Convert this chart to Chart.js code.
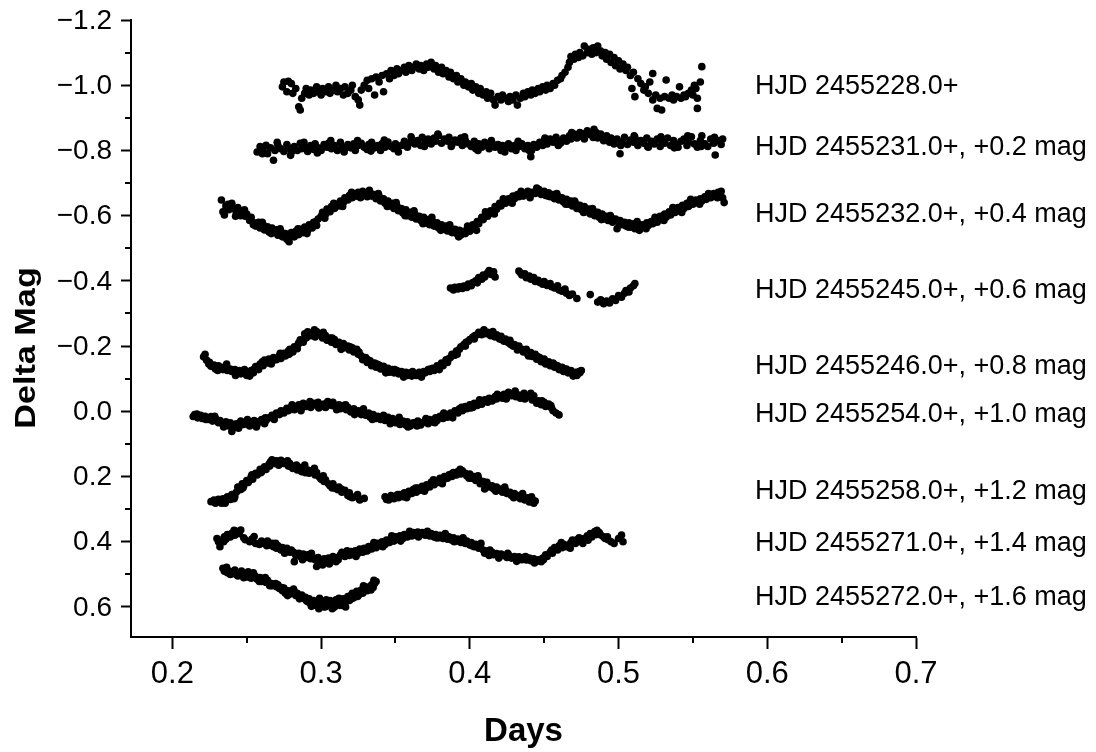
<!DOCTYPE html>
<html>
<head>
<meta charset="utf-8">
<script src="https://cdn.jsdelivr.net/npm/chart.js@4.4.1/dist/chart.umd.min.js"></script>
<style>
  html, body { margin: 0; padding: 0; background: #fff; }
  canvas { display: block; }
</style>
</head>
<body>
<canvas id="lightCurves" width="1096" height="752"></canvas>
<script>
// axis ticks
const dayTicks = [0.2, 0.3, 0.4, 0.5, 0.6, 0.7];
const dayMinor = [0.25, 0.35, 0.45, 0.55, 0.65];
const magTicks = [-1.2, -1.0, -0.8, -0.6, -0.4, -0.2, 0.0, 0.2, 0.4, 0.6];
const magMinor = [-1.1, -0.9, -0.7, -0.5, -0.3, -0.1, 0.1, 0.3, 0.5];

// night labels and where they sit (Delta Mag)
const nightLabels = [
  "HJD 2455228.0+",
  "HJD 2455231.0+, +0.2 mag",
  "HJD 2455232.0+, +0.4 mag",
  "HJD 2455245.0+, +0.6 mag",
  "HJD 2455246.0+, +0.8 mag",
  "HJD 2455254.0+, +1.0 mag",
  "HJD 2455258.0+, +1.2 mag",
  "HJD 2455271.0+, +1.4 mag",
  "HJD 2455272.0+, +1.6 mag"
];
const nightLabelMag = [-0.995, -0.81, -0.604, -0.371, -0.137, 0.010, 0.247, 0.406, 0.572];
const nightLabelDay = 0.5918;

// [days, delta mag]
const n228 = [[0.274,-0.995],[0.275,-1.01],[0.277,-0.98],[0.278,-1.012],[0.280,-1.005],[0.281,-0.975],[0.283,-0.99],[0.285,-0.934],[0.286,-0.924],[0.287,-0.96],[0.289,-0.975],[0.290,-0.99],[0.292,-0.97],[0.293,-0.985],[0.295,-0.975],[0.297,-0.995],[0.298,-0.98],[0.300,-0.97],[0.301,-0.99],[0.303,-0.98],[0.305,-0.995],[0.306,-0.975],[0.308,-0.985],[0.310,-1.0],[0.311,-0.98],[0.313,-0.99],[0.315,-0.97],[0.316,-0.995],[0.318,-0.975],[0.320,-0.985],[0.321,-1.0],[0.323,-0.965],[0.325,-0.955],[0.326,-0.939],[0.327,-0.985],[0.329,-1.0],[0.331,-1.015],[0.332,-0.99],[0.334,-1.02],[0.336,-0.97],[0.337,-1.025],[0.339,-1.01],[0.341,-1.03],[0.342,-0.98],[0.344,-1.035],[0.346,-1.02],[0.347,-1.045],[0.349,-1.03],[0.351,-1.05],[0.352,-1.035],[0.354,-1.045],[0.356,-1.055],[0.357,-1.04],[0.359,-1.06],[0.361,-1.045],[0.362,-1.055],[0.364,-1.065],[0.366,-1.05],[0.367,-1.06],[0.369,-1.045],[0.371,-1.065],[0.372,-1.055],[0.374,-1.07],[0.376,-1.05],[0.377,-1.06],[0.379,-1.04],[0.381,-1.055],[0.382,-1.035],[0.384,-1.045],[0.386,-1.025],[0.387,-1.04],[0.389,-1.02],[0.391,-1.03],[0.392,-1.01],[0.394,-1.02],[0.396,-1.0],[0.397,-1.01],[0.399,-0.995],[0.401,-1.005],[0.402,-0.985],[0.404,-0.995],[0.406,-0.975],[0.407,-0.99],[0.409,-0.97],[0.411,-0.98],[0.412,-0.96],[0.414,-0.975],[0.416,-0.955],[0.417,-0.939],[0.419,-0.965],[0.421,-0.955],[0.422,-0.97],[0.424,-0.96],[0.426,-0.95],[0.427,-0.965],[0.429,-0.955],[0.431,-0.97],[0.432,-0.939],[0.434,-0.96],[0.436,-0.975],[0.437,-0.965],[0.439,-0.98],[0.441,-0.97],[0.442,-0.985],[0.444,-0.975],[0.446,-0.99],[0.447,-0.98],[0.449,-0.995],[0.451,-0.985],[0.452,-1.0],[0.454,-0.99],[0.456,-1.005],[0.457,-1.0],[0.459,-1.015],[0.461,-1.02],[0.462,-1.03],[0.464,-1.04],[0.466,-1.055],[0.467,-1.07],[0.468,-1.088],[0.470,-1.08],[0.471,-1.095],[0.473,-1.085],[0.474,-1.1],[0.476,-1.09],[0.477,-1.12],[0.479,-1.1],[0.480,-1.11],[0.482,-1.095],[0.483,-1.115],[0.485,-1.1],[0.486,-1.12],[0.488,-1.105],[0.489,-1.09],[0.491,-1.1],[0.492,-1.08],[0.494,-1.095],[0.495,-1.07],[0.497,-1.085],[0.498,-1.06],[0.500,-1.075],[0.501,-1.05],[0.503,-1.065],[0.505,-1.045],[0.506,-1.055],[0.508,-1.03],[0.509,-0.99],[0.510,-1.04],[0.511,-0.965],[0.513,-1.02],[0.515,-1.005],[0.517,-0.985],[0.518,-0.995],[0.520,-0.975],[0.521,-1.01],[0.523,-1.036],[0.523,-0.955],[0.525,-0.97],[0.526,-0.929],[0.528,-0.96],[0.529,-0.924],[0.531,-0.965],[0.532,-1.016],[0.534,-0.96],[0.536,-0.97],[0.537,-0.955],[0.539,-0.965],[0.541,-0.995],[0.542,-0.96],[0.544,-0.97],[0.545,-0.965],[0.547,-0.975],[0.549,-0.985],[0.550,-0.97],[0.551,-1.0],[0.552,-0.99],[0.553,-0.96],[0.553,-0.929],[0.555,-1.01],[0.556,-1.057]];

const n231 = [[0.257,-0.795],[0.259,-0.812],[0.261,-0.802],[0.263,-0.816],[0.264,-0.79],[0.266,-0.808],[0.268,-0.77],[0.269,-0.8],[0.271,-0.815],[0.273,-0.805],[0.275,-0.797],[0.277,-0.818],[0.278,-0.808],[0.280,-0.795],[0.282,-0.812],[0.284,-0.8],[0.286,-0.822],[0.287,-0.805],[0.289,-0.81],[0.291,-0.797],[0.293,-0.815],[0.295,-0.803],[0.296,-0.82],[0.298,-0.808],[0.300,-0.8],[0.302,-0.818],[0.304,-0.81],[0.305,-0.822],[0.307,-0.805],[0.309,-0.815],[0.311,-0.8],[0.313,-0.825],[0.314,-0.812],[0.316,-0.805],[0.318,-0.818],[0.320,-0.808],[0.322,-0.82],[0.323,-0.8],[0.325,-0.815],[0.327,-0.822],[0.329,-0.81],[0.331,-0.803],[0.332,-0.818],[0.334,-0.825],[0.336,-0.808],[0.338,-0.815],[0.340,-0.8],[0.341,-0.82],[0.343,-0.81],[0.345,-0.826],[0.347,-0.812],[0.349,-0.805],[0.350,-0.82],[0.352,-0.795],[0.354,-0.815],[0.356,-0.828],[0.358,-0.81],[0.359,-0.822],[0.361,-0.835],[0.363,-0.82],[0.365,-0.83],[0.367,-0.815],[0.368,-0.84],[0.370,-0.825],[0.372,-0.835],[0.374,-0.82],[0.376,-0.838],[0.377,-0.828],[0.379,-0.845],[0.381,-0.822],[0.383,-0.835],[0.385,-0.828],[0.386,-0.84],[0.388,-0.818],[0.390,-0.832],[0.392,-0.825],[0.394,-0.838],[0.395,-0.815],[0.397,-0.83],[0.399,-0.82],[0.401,-0.812],[0.403,-0.828],[0.404,-0.805],[0.406,-0.82],[0.408,-0.81],[0.410,-0.825],[0.412,-0.815],[0.413,-0.805],[0.415,-0.822],[0.417,-0.81],[0.419,-0.818],[0.421,-0.8],[0.422,-0.815],[0.424,-0.808],[0.426,-0.82],[0.428,-0.805],[0.430,-0.815],[0.431,-0.8],[0.433,-0.812],[0.435,-0.82],[0.437,-0.805],[0.439,-0.815],[0.440,-0.8],[0.441,-0.781],[0.443,-0.818],[0.445,-0.81],[0.447,-0.825],[0.449,-0.815],[0.450,-0.83],[0.452,-0.82],[0.454,-0.835],[0.456,-0.825],[0.458,-0.84],[0.459,-0.83],[0.461,-0.822],[0.463,-0.838],[0.465,-0.828],[0.467,-0.845],[0.468,-0.835],[0.470,-0.85],[0.472,-0.838],[0.474,-0.855],[0.476,-0.842],[0.477,-0.835],[0.479,-0.86],[0.481,-0.848],[0.483,-0.84],[0.485,-0.855],[0.486,-0.838],[0.488,-0.85],[0.490,-0.83],[0.492,-0.845],[0.494,-0.825],[0.495,-0.838],[0.497,-0.82],[0.499,-0.835],[0.501,-0.79],[0.502,-0.825],[0.504,-0.84],[0.506,-0.818],[0.508,-0.832],[0.510,-0.825],[0.511,-0.84],[0.513,-0.815],[0.515,-0.83],[0.517,-0.822],[0.519,-0.838],[0.520,-0.81],[0.522,-0.828],[0.524,-0.82],[0.526,-0.835],[0.528,-0.812],[0.529,-0.83],[0.531,-0.822],[0.533,-0.838],[0.535,-0.815],[0.537,-0.83],[0.538,-0.82],[0.540,-0.81],[0.542,-0.828],[0.544,-0.835],[0.546,-0.815],[0.547,-0.825],[0.549,-0.842],[0.551,-0.82],[0.553,-0.81],[0.555,-0.83],[0.556,-0.845],[0.558,-0.82],[0.560,-0.812],[0.562,-0.835],[0.564,-0.822],[0.565,-0.786],[0.567,-0.83],[0.569,-0.818],[0.570,-0.835],
  [0.2605,-0.79],[0.2705,-0.825],[0.2795,-0.785],[0.2885,-0.825],[0.2975,-0.792],[0.3065,-0.83],[0.3155,-0.795],[0.3245,-0.83],[0.3335,-0.798],[0.3425,-0.832],[0.3515,-0.81],[0.3605,-0.842],[0.3695,-0.812],[0.3785,-0.85],[0.3875,-0.812],[0.3965,-0.842],[0.4055,-0.8],[0.4145,-0.83],[0.4235,-0.795],[0.4325,-0.828],[0.4415,-0.8],[0.4505,-0.838],[0.4595,-0.815],[0.4685,-0.855],[0.4775,-0.852],[0.4835,-0.865],[0.4925,-0.835],[0.5015,-0.815],[0.5105,-0.845],[0.5195,-0.812],[0.5285,-0.842],[0.5375,-0.808],[0.5465,-0.845],[0.5555,-0.812],[0.5645,-0.84]];

const n232 = [[0.233,-0.648],[0.234,-0.612],[0.235,-0.602],[0.236,-0.63],[0.238,-0.618],[0.240,-0.638],[0.241,-0.622],[0.243,-0.61],[0.244,-0.625],[0.246,-0.6],[0.247,-0.614],[0.249,-0.598],[0.250,-0.605],[0.252,-0.585],[0.253,-0.595],[0.255,-0.578],[0.256,-0.568],[0.258,-0.58],[0.259,-0.562],[0.261,-0.572],[0.262,-0.556],[0.264,-0.566],[0.265,-0.55],[0.267,-0.562],[0.268,-0.548],[0.270,-0.557],[0.271,-0.54],[0.273,-0.552],[0.274,-0.535],[0.276,-0.545],[0.277,-0.528],[0.279,-0.54],[0.280,-0.548],[0.282,-0.535],[0.283,-0.552],[0.285,-0.542],[0.286,-0.558],[0.288,-0.548],[0.289,-0.565],[0.291,-0.555],[0.292,-0.572],[0.294,-0.562],[0.295,-0.58],[0.297,-0.57],[0.298,-0.59],[0.300,-0.598],[0.301,-0.61],[0.303,-0.604],[0.304,-0.62],[0.306,-0.612],[0.307,-0.628],[0.309,-0.622],[0.310,-0.635],[0.312,-0.63],[0.313,-0.645],[0.315,-0.64],[0.316,-0.655],[0.318,-0.648],[0.319,-0.662],[0.321,-0.655],[0.322,-0.668],[0.324,-0.66],[0.325,-0.672],[0.327,-0.662],[0.328,-0.675],[0.330,-0.665],[0.331,-0.658],[0.333,-0.67],[0.334,-0.66],[0.336,-0.665],[0.337,-0.652],[0.339,-0.66],[0.340,-0.645],[0.342,-0.652],[0.343,-0.638],[0.345,-0.645],[0.346,-0.63],[0.348,-0.638],[0.349,-0.622],[0.351,-0.63],[0.352,-0.615],[0.354,-0.622],[0.355,-0.608],[0.357,-0.618],[0.358,-0.6],[0.360,-0.61],[0.361,-0.595],[0.363,-0.605],[0.364,-0.59],[0.366,-0.598],[0.367,-0.585],[0.369,-0.595],[0.370,-0.578],[0.372,-0.588],[0.373,-0.572],[0.375,-0.582],[0.376,-0.568],[0.378,-0.578],[0.379,-0.562],[0.381,-0.572],[0.382,-0.558],[0.384,-0.568],[0.385,-0.553],[0.387,-0.562],[0.388,-0.548],[0.390,-0.558],[0.391,-0.545],[0.393,-0.555],[0.394,-0.541],[0.396,-0.552],[0.397,-0.545],[0.399,-0.56],[0.400,-0.552],[0.402,-0.572],[0.403,-0.565],[0.405,-0.582],[0.406,-0.575],[0.408,-0.595],[0.409,-0.588],[0.411,-0.605],[0.412,-0.598],[0.414,-0.615],[0.415,-0.608],[0.417,-0.628],[0.418,-0.62],[0.420,-0.638],[0.421,-0.63],[0.423,-0.645],[0.424,-0.638],[0.426,-0.652],[0.427,-0.645],[0.429,-0.66],[0.430,-0.652],[0.432,-0.665],[0.433,-0.658],[0.435,-0.67],[0.436,-0.66],[0.438,-0.668],[0.439,-0.675],[0.441,-0.665],[0.442,-0.672],[0.444,-0.668],[0.445,-0.685],[0.447,-0.672],[0.448,-0.665],[0.450,-0.675],[0.451,-0.662],[0.453,-0.67],[0.454,-0.658],[0.456,-0.665],[0.457,-0.652],[0.459,-0.66],[0.460,-0.648],[0.462,-0.655],[0.463,-0.642],[0.465,-0.65],[0.466,-0.635],[0.468,-0.645],[0.469,-0.63],[0.471,-0.638],[0.472,-0.622],[0.474,-0.632],[0.475,-0.618],[0.477,-0.628],[0.478,-0.612],[0.480,-0.62],[0.481,-0.605],[0.483,-0.615],[0.484,-0.6],[0.486,-0.61],[0.487,-0.595],[0.489,-0.605],[0.490,-0.59],[0.492,-0.598],[0.493,-0.585],[0.495,-0.595],[0.496,-0.58],[0.498,-0.59],[0.499,-0.56],[0.501,-0.585],[0.502,-0.572],[0.504,-0.58],[0.505,-0.568],[0.507,-0.578],[0.508,-0.565],[0.510,-0.575],[0.511,-0.56],[0.513,-0.57],[0.514,-0.555],[0.516,-0.572],[0.517,-0.565],[0.519,-0.578],[0.520,-0.57],[0.522,-0.582],[0.523,-0.575],[0.525,-0.59],[0.526,-0.58],[0.528,-0.598],[0.529,-0.588],[0.531,-0.605],[0.532,-0.595],[0.534,-0.612],[0.535,-0.602],[0.537,-0.618],[0.538,-0.61],[0.540,-0.625],[0.541,-0.615],[0.543,-0.632],[0.544,-0.622],[0.546,-0.638],[0.547,-0.628],[0.549,-0.642],[0.550,-0.635],[0.552,-0.648],[0.553,-0.64],[0.555,-0.652],[0.556,-0.645],[0.558,-0.658],[0.559,-0.65],[0.561,-0.662],[0.562,-0.655],[0.564,-0.668],[0.565,-0.66],[0.567,-0.672],[0.568,-0.662],[0.569,-0.675],[0.570,-0.655],[0.571,-0.64],
  [0.2375,-0.635],[0.2425,-0.598],[0.2485,-0.618],[0.2545,-0.572],[0.2605,-0.58],[0.2665,-0.545],[0.2725,-0.56],[0.2785,-0.52],[0.2845,-0.56],[0.2905,-0.545],[0.2965,-0.582],[0.3025,-0.592],[0.3085,-0.638],[0.3145,-0.628],[0.3205,-0.672],[0.3265,-0.655],[0.3325,-0.678],[0.3385,-0.668],[0.3445,-0.628],[0.3505,-0.64],[0.3565,-0.6],[0.3625,-0.615],[0.3685,-0.575],[0.3745,-0.595],[0.3805,-0.555],[0.3865,-0.572],[0.3925,-0.535],[0.3985,-0.568],[0.4045,-0.555],[0.4105,-0.612],[0.4165,-0.605],[0.4225,-0.652],[0.4285,-0.638],[0.4345,-0.675],[0.4405,-0.655],[0.4465,-0.68],[0.4525,-0.66],[0.4585,-0.668],[0.4645,-0.635],[0.4705,-0.645],[0.4765,-0.61],[0.4825,-0.622],[0.4885,-0.588],[0.4945,-0.6],[0.5005,-0.575],[0.5065,-0.565],[0.5125,-0.582],[0.5185,-0.56],[0.5245,-0.595],[0.5305,-0.585],[0.5365,-0.625],[0.5425,-0.61],[0.5485,-0.65],[0.5545,-0.635],[0.5605,-0.668],[0.5665,-0.655]];

const n245 = [[0.387,-0.378],[0.389,-0.372],[0.390,-0.38],[0.392,-0.375],[0.393,-0.382],[0.395,-0.377],[0.396,-0.384],[0.398,-0.38],[0.399,-0.39],[0.401,-0.385],[0.402,-0.395],[0.404,-0.4],[0.405,-0.394],[0.406,-0.41],[0.408,-0.405],[0.409,-0.418],[0.410,-0.412],[0.412,-0.425],[0.413,-0.432],[0.414,-0.42],[0.416,-0.428],[0.417,-0.412],[0.433,-0.43],[0.434,-0.425],[0.435,-0.418],[0.437,-0.422],[0.438,-0.41],[0.440,-0.415],[0.441,-0.405],[0.443,-0.41],[0.444,-0.398],[0.446,-0.402],[0.447,-0.395],[0.449,-0.39],[0.450,-0.398],[0.452,-0.386],[0.454,-0.392],[0.455,-0.382],[0.457,-0.378],[0.459,-0.385],[0.460,-0.372],[0.462,-0.368],[0.464,-0.375],[0.465,-0.362],[0.467,-0.355],[0.469,-0.36],[0.472,-0.346],[0.481,-0.358],[0.486,-0.335],[0.488,-0.342],[0.490,-0.33],[0.492,-0.338],[0.494,-0.332],[0.496,-0.345],[0.498,-0.34],[0.500,-0.355],[0.502,-0.35],[0.504,-0.362],[0.505,-0.37],[0.507,-0.366],[0.508,-0.378],[0.510,-0.385],[0.511,-0.392]];

const n246 = [[0.221,-0.167],[0.222,-0.175],[0.223,-0.157],[0.225,-0.15],[0.226,-0.138],[0.228,-0.142],[0.229,-0.13],[0.231,-0.14],[0.233,-0.135],[0.234,-0.128],[0.236,-0.137],[0.237,-0.125],[0.239,-0.13],[0.240,-0.122],[0.242,-0.128],[0.243,-0.118],[0.245,-0.125],[0.246,-0.115],[0.248,-0.12],[0.250,-0.11],[0.252,-0.108],[0.253,-0.125],[0.255,-0.13],[0.256,-0.137],[0.258,-0.128],[0.259,-0.145],[0.261,-0.14],[0.262,-0.157],[0.264,-0.148],[0.265,-0.16],[0.267,-0.152],[0.268,-0.165],[0.270,-0.158],[0.272,-0.17],[0.273,-0.162],[0.275,-0.178],[0.276,-0.17],[0.278,-0.185],[0.279,-0.19],[0.281,-0.182],[0.282,-0.198],[0.284,-0.192],[0.285,-0.21],[0.286,-0.219],[0.288,-0.212],[0.289,-0.238],[0.290,-0.225],[0.291,-0.244],[0.293,-0.232],[0.294,-0.24],[0.296,-0.228],[0.297,-0.245],[0.298,-0.235],[0.300,-0.238],[0.301,-0.225],[0.303,-0.232],[0.304,-0.218],[0.306,-0.225],[0.307,-0.212],[0.309,-0.22],[0.310,-0.205],[0.312,-0.212],[0.313,-0.2],[0.315,-0.208],[0.316,-0.195],[0.318,-0.2],[0.319,-0.188],[0.321,-0.195],[0.322,-0.182],[0.324,-0.19],[0.325,-0.175],[0.327,-0.17],[0.328,-0.158],[0.330,-0.165],[0.331,-0.15],[0.333,-0.155],[0.334,-0.14],[0.336,-0.148],[0.337,-0.135],[0.339,-0.142],[0.340,-0.13],[0.342,-0.138],[0.343,-0.125],[0.345,-0.132],[0.346,-0.12],[0.348,-0.128],[0.349,-0.118],[0.351,-0.125],[0.352,-0.115],[0.354,-0.122],[0.355,-0.112],[0.357,-0.12],[0.358,-0.11],[0.360,-0.118],[0.361,-0.108],[0.363,-0.116],[0.364,-0.11],[0.366,-0.12],[0.367,-0.112],[0.369,-0.122],[0.370,-0.118],[0.372,-0.128],[0.373,-0.122],[0.375,-0.132],[0.376,-0.125],[0.378,-0.14],[0.379,-0.135],[0.381,-0.148],[0.382,-0.14],[0.384,-0.158],[0.385,-0.15],[0.387,-0.165],[0.388,-0.175],[0.390,-0.172],[0.391,-0.185],[0.393,-0.19],[0.394,-0.198],[0.396,-0.205],[0.397,-0.2],[0.399,-0.215],[0.400,-0.22],[0.402,-0.228],[0.403,-0.222],[0.405,-0.235],[0.406,-0.242],[0.408,-0.235],[0.409,-0.245],[0.411,-0.238],[0.412,-0.242],[0.414,-0.232],[0.415,-0.238],[0.417,-0.228],[0.418,-0.235],[0.420,-0.222],[0.421,-0.23],[0.423,-0.215],[0.424,-0.222],[0.426,-0.21],[0.427,-0.218],[0.429,-0.2],[0.430,-0.205],[0.432,-0.188],[0.433,-0.2],[0.435,-0.19],[0.436,-0.182],[0.438,-0.19],[0.439,-0.175],[0.441,-0.18],[0.442,-0.168],[0.444,-0.175],[0.445,-0.16],[0.447,-0.165],[0.448,-0.152],[0.450,-0.16],[0.451,-0.145],[0.453,-0.152],[0.454,-0.14],[0.456,-0.148],[0.457,-0.135],[0.459,-0.14],[0.460,-0.128],[0.462,-0.135],[0.463,-0.122],[0.465,-0.13],[0.466,-0.118],[0.468,-0.125],[0.469,-0.115],[0.471,-0.12],[0.472,-0.11],[0.474,-0.118],[0.475,-0.125],
  [0.2245,-0.145],[0.2305,-0.125],[0.2365,-0.145],[0.2425,-0.11],[0.2485,-0.128],[0.2545,-0.118],[0.2605,-0.152],[0.2665,-0.145],[0.2725,-0.178],[0.2785,-0.175],[0.2845,-0.205],[0.2895,-0.232],[0.2955,-0.25],[0.3015,-0.242],[0.3075,-0.225],[0.3135,-0.19],[0.3195,-0.198],[0.3255,-0.182],[0.3315,-0.158],[0.3375,-0.145],[0.3435,-0.118],[0.3495,-0.128],[0.3555,-0.105],[0.3615,-0.122],[0.3675,-0.105],[0.3735,-0.13],[0.3795,-0.128],[0.3855,-0.16],[0.3915,-0.175],[0.3975,-0.212],[0.4035,-0.232],[0.4095,-0.25],[0.4155,-0.245],[0.4215,-0.22],[0.4275,-0.205],[0.4335,-0.192],[0.4395,-0.17],[0.4455,-0.168],[0.4515,-0.15],[0.4575,-0.142],[0.4635,-0.13],[0.4695,-0.108],[0.4735,-0.122]];

const n254 = [[0.214,0.016],[0.215,0.01],[0.217,0.02],[0.219,0.012],[0.220,0.022],[0.222,0.015],[0.224,0.025],[0.226,0.016],[0.227,0.03],[0.229,0.022],[0.231,0.035],[0.232,0.028],[0.234,0.04],[0.236,0.032],[0.238,0.045],[0.239,0.035],[0.240,0.062],[0.241,0.05],[0.243,0.038],[0.245,0.045],[0.246,0.03],[0.248,0.04],[0.250,0.032],[0.252,0.045],[0.253,0.035],[0.255,0.028],[0.257,0.04],[0.258,0.032],[0.260,0.025],[0.262,0.038],[0.263,0.028],[0.265,0.02],[0.267,0.012],[0.268,0.018],[0.270,0.005],[0.272,0.01],[0.273,-0.002],[0.275,0.005],[0.277,-0.009],[0.278,-0.002],[0.280,-0.012],[0.282,-0.005],[0.283,-0.015],[0.285,-0.02],[0.287,-0.01],[0.288,-0.025],[0.290,-0.015],[0.292,-0.022],[0.293,-0.012],[0.295,-0.025],[0.297,-0.018],[0.298,-0.028],[0.300,-0.015],[0.302,-0.022],[0.303,-0.012],[0.305,-0.025],[0.307,-0.018],[0.308,-0.028],[0.310,-0.012],[0.312,-0.02],[0.313,-0.008],[0.315,-0.018],[0.317,-0.005],[0.318,-0.012],[0.320,0.002],[0.322,-0.008],[0.323,0.005],[0.325,-0.002],[0.327,0.01],[0.328,0.0],[0.330,0.012],[0.332,0.005],[0.333,0.018],[0.335,0.01],[0.337,0.022],[0.338,0.015],[0.340,0.025],[0.342,0.012],[0.343,0.028],[0.345,0.018],[0.347,0.03],[0.348,0.022],[0.350,0.035],[0.352,0.025],[0.353,0.04],[0.355,0.03],[0.357,0.042],[0.358,0.032],[0.360,0.045],[0.362,0.035],[0.363,0.04],[0.365,0.03],[0.367,0.042],[0.368,0.035],[0.370,0.028],[0.372,0.038],[0.373,0.025],[0.375,0.032],[0.377,0.02],[0.378,0.028],[0.380,0.015],[0.382,0.022],[0.383,0.01],[0.385,0.018],[0.387,0.005],[0.388,0.012],[0.390,-0.002],[0.392,0.005],[0.393,-0.008],[0.395,-0.002],[0.397,-0.015],[0.398,-0.008],[0.400,-0.02],[0.402,-0.012],[0.403,-0.025],[0.405,-0.018],[0.407,-0.03],[0.408,-0.022],[0.410,-0.035],[0.412,-0.028],[0.413,-0.04],[0.415,-0.032],[0.417,-0.045],[0.418,-0.038],[0.420,-0.048],[0.422,-0.04],[0.423,-0.052],[0.425,-0.045],[0.426,-0.058],[0.428,-0.048],[0.430,-0.055],[0.431,-0.045],[0.433,-0.05],[0.434,-0.04],[0.436,-0.048],[0.437,-0.038],[0.439,-0.045],[0.441,-0.055],[0.442,-0.035],[0.443,-0.048],[0.445,-0.025],[0.446,-0.032],[0.448,-0.02],[0.450,-0.028],[0.451,-0.015],[0.453,-0.022],[0.455,-0.01],[0.456,-0.002],[0.458,0.005],[0.460,0.011],
  [0.2165,0.008],[0.2225,0.025],[0.2285,0.015],[0.2345,0.048],[0.2445,0.052],[0.2505,0.025],[0.2565,0.048],[0.2625,0.02],[0.2685,0.025],[0.2745,0.0],[0.2805,-0.02],[0.2865,-0.002],[0.2925,-0.03],[0.2985,-0.01],[0.3045,-0.03],[0.3105,-0.005],[0.3165,-0.02],[0.3225,0.01],[0.3285,-0.008],[0.3345,0.025],[0.3405,0.018],[0.3465,0.038],[0.3525,0.018],[0.3585,0.048],[0.3645,0.045],[0.3705,0.022],[0.3765,0.035],[0.3825,0.005],[0.3885,0.02],[0.3945,-0.012],[0.4005,-0.01],[0.4065,-0.035],[0.4125,-0.035],[0.4185,-0.052],[0.4245,-0.038],[0.4305,-0.062],[0.4365,-0.055],[0.4425,-0.042],[0.4485,-0.032],[0.4545,-0.018]];

const n258 = [[0.226,0.277],[0.228,0.272],[0.229,0.282],[0.231,0.27],[0.233,0.282],[0.234,0.268],[0.236,0.275],[0.237,0.262],[0.239,0.27],[0.240,0.255],[0.242,0.262],[0.243,0.248],[0.244,0.232],[0.246,0.24],[0.247,0.222],[0.248,0.228],[0.250,0.212],[0.251,0.218],[0.253,0.2],[0.254,0.208],[0.256,0.19],[0.257,0.195],[0.259,0.178],[0.260,0.185],[0.262,0.17],[0.263,0.178],[0.265,0.162],[0.266,0.155],[0.267,0.149],[0.269,0.16],[0.270,0.152],[0.272,0.158],[0.273,0.15],[0.275,0.16],[0.276,0.155],[0.278,0.168],[0.279,0.16],[0.281,0.175],[0.282,0.168],[0.284,0.18],[0.285,0.172],[0.287,0.185],[0.288,0.175],[0.289,0.165],[0.291,0.18],[0.292,0.19],[0.294,0.182],[0.296,0.195],[0.297,0.188],[0.299,0.202],[0.300,0.208],[0.302,0.215],[0.303,0.21],[0.305,0.222],[0.306,0.228],[0.308,0.222],[0.309,0.235],[0.311,0.24],[0.312,0.232],[0.314,0.248],[0.316,0.242],[0.318,0.258],[0.319,0.25],[0.321,0.265],[0.323,0.262],[0.326,0.272],[0.329,0.267],[0.343,0.262],[0.344,0.27],[0.346,0.265],[0.347,0.258],[0.349,0.268],[0.350,0.26],[0.352,0.265],[0.353,0.255],[0.355,0.262],[0.356,0.25],[0.358,0.258],[0.359,0.245],[0.361,0.252],[0.362,0.24],[0.364,0.248],[0.365,0.235],[0.367,0.242],[0.368,0.23],[0.370,0.238],[0.371,0.225],[0.373,0.232],[0.374,0.218],[0.376,0.225],[0.377,0.212],[0.379,0.218],[0.380,0.205],[0.382,0.212],[0.383,0.2],[0.385,0.205],[0.386,0.195],[0.388,0.2],[0.389,0.188],[0.391,0.195],[0.392,0.185],[0.394,0.192],[0.395,0.182],[0.397,0.19],[0.398,0.198],[0.400,0.192],[0.401,0.205],[0.403,0.2],[0.404,0.212],[0.406,0.208],[0.407,0.222],[0.409,0.215],[0.410,0.238],[0.412,0.225],[0.413,0.232],[0.415,0.228],[0.416,0.238],[0.418,0.232],[0.419,0.242],[0.421,0.238],[0.422,0.248],[0.424,0.242],[0.425,0.252],[0.427,0.248],[0.428,0.258],[0.430,0.252],[0.431,0.262],[0.433,0.258],[0.434,0.268],[0.436,0.262],[0.437,0.272],[0.439,0.265],[0.440,0.278],[0.442,0.27],[0.443,0.282],[0.444,0.275],
  [0.2295,0.275],[0.2355,0.282],[0.2415,0.268],[0.2475,0.235],[0.2535,0.195],[0.2595,0.188],[0.2655,0.168],[0.2715,0.165],[0.2775,0.152],[0.2835,0.165],[0.2895,0.188],[0.2955,0.175],[0.3015,0.198],[0.3075,0.235],[0.3135,0.238],[0.3195,0.262],[0.3245,0.255],[0.3455,0.272],[0.3515,0.255],[0.3575,0.265],[0.3635,0.235],[0.3695,0.245],[0.3755,0.21],[0.3815,0.222],[0.3875,0.192],[0.3935,0.178],[0.3995,0.205],[0.4055,0.198],[0.4115,0.218],[0.4175,0.245],[0.4235,0.232],[0.4295,0.265],[0.4355,0.252],[0.4415,0.262]];

const n271 = [[0.230,0.39],[0.231,0.4],[0.232,0.415],[0.233,0.395],[0.235,0.385],[0.236,0.392],[0.237,0.378],[0.239,0.385],[0.240,0.374],[0.242,0.38],[0.243,0.368],[0.245,0.375],[0.246,0.364],[0.248,0.388],[0.249,0.394],[0.252,0.4],[0.255,0.384],[0.256,0.405],[0.260,0.398],[0.262,0.405],[0.264,0.398],[0.265,0.41],[0.267,0.405],[0.268,0.415],[0.270,0.42],[0.271,0.412],[0.273,0.425],[0.274,0.418],[0.276,0.428],[0.277,0.42],[0.279,0.432],[0.280,0.425],[0.282,0.461],[0.283,0.441],[0.285,0.435],[0.286,0.445],[0.288,0.438],[0.290,0.448],[0.291,0.44],[0.293,0.452],[0.294,0.445],[0.296,0.455],[0.297,0.476],[0.298,0.448],[0.300,0.46],[0.301,0.471],[0.302,0.452],[0.304,0.462],[0.305,0.45],[0.307,0.458],[0.308,0.445],[0.310,0.461],[0.311,0.448],[0.313,0.44],[0.314,0.432],[0.316,0.445],[0.317,0.435],[0.319,0.442],[0.320,0.43],[0.322,0.44],[0.323,0.428],[0.325,0.435],[0.326,0.422],[0.328,0.432],[0.329,0.42],[0.331,0.428],[0.332,0.415],[0.334,0.422],[0.335,0.41],[0.337,0.418],[0.338,0.405],[0.340,0.412],[0.341,0.4],[0.343,0.408],[0.344,0.395],[0.346,0.402],[0.347,0.39],[0.349,0.398],[0.350,0.385],[0.352,0.392],[0.353,0.382],[0.355,0.39],[0.356,0.378],[0.358,0.385],[0.359,0.375],[0.361,0.382],[0.362,0.372],[0.364,0.38],[0.365,0.37],[0.367,0.378],[0.368,0.372],[0.370,0.38],[0.371,0.374],[0.373,0.382],[0.374,0.375],[0.376,0.385],[0.377,0.378],[0.379,0.388],[0.380,0.38],[0.382,0.39],[0.383,0.383],[0.385,0.392],[0.386,0.385],[0.388,0.395],[0.389,0.388],[0.391,0.398],[0.392,0.392],[0.394,0.402],[0.395,0.395],[0.397,0.405],[0.398,0.398],[0.400,0.41],[0.401,0.402],[0.403,0.415],[0.404,0.408],[0.406,0.42],[0.407,0.412],[0.409,0.425],[0.410,0.435],[0.412,0.428],[0.413,0.442],[0.415,0.432],[0.416,0.44],[0.418,0.436],[0.420,0.445],[0.421,0.438],[0.423,0.442],[0.425,0.448],[0.426,0.44],[0.428,0.45],[0.430,0.445],[0.431,0.452],[0.433,0.446],[0.435,0.455],[0.436,0.448],[0.438,0.456],[0.440,0.45],[0.441,0.458],[0.443,0.452],[0.445,0.46],[0.446,0.455],[0.448,0.461],[0.449,0.45],[0.451,0.44],[0.452,0.445],[0.454,0.432],[0.455,0.425],[0.457,0.418],[0.459,0.425],[0.460,0.412],[0.462,0.418],[0.463,0.408],[0.465,0.415],[0.466,0.41],[0.468,0.402],[0.469,0.395],[0.471,0.405],[0.472,0.394],[0.474,0.398],[0.476,0.405],[0.477,0.39],[0.479,0.382],[0.481,0.375],[0.482,0.385],[0.484,0.369],[0.485,0.378],[0.487,0.372],[0.488,0.379],[0.490,0.385],[0.491,0.39],[0.493,0.394],[0.495,0.4],[0.497,0.405],[0.500,0.39],[0.502,0.379],[0.503,0.40],
  [0.2345,0.4],[0.2415,0.365],[0.2535,0.392],[0.2585,0.408],[0.2635,0.412],[0.2695,0.405],[0.2755,0.435],[0.2815,0.432],[0.2875,0.455],[0.2935,0.435],[0.2995,0.468],[0.3055,0.468],[0.3115,0.455],[0.3175,0.428],[0.3235,0.445],[0.3295,0.428],[0.3355,0.402],[0.3415,0.415],[0.3475,0.382],[0.3535,0.398],[0.3595,0.368],[0.3655,0.385],[0.3715,0.368],[0.3775,0.388],[0.3835,0.375],[0.3895,0.4],[0.3955,0.388],[0.4015,0.412],[0.4075,0.405],[0.4135,0.425],[0.4195,0.45],[0.4255,0.435],[0.4315,0.46],[0.4375,0.445],[0.4435,0.465],[0.4495,0.455],[0.4555,0.435],[0.4615,0.402],[0.4675,0.42],[0.4735,0.388],[0.4795,0.395],[0.4855,0.365],[0.4925,0.385]];

const n272 = [[0.234,0.481],[0.235,0.49],[0.236,0.485],[0.237,0.495],[0.238,0.49],[0.239,0.5],[0.240,0.492],[0.242,0.487],[0.243,0.498],[0.244,0.505],[0.245,0.495],[0.247,0.502],[0.248,0.51],[0.249,0.498],[0.251,0.492],[0.252,0.505],[0.253,0.512],[0.255,0.502],[0.256,0.507],[0.257,0.515],[0.259,0.51],[0.260,0.522],[0.261,0.515],[0.263,0.525],[0.264,0.518],[0.266,0.527],[0.267,0.535],[0.268,0.53],[0.270,0.538],[0.271,0.532],[0.272,0.543],[0.274,0.55],[0.275,0.542],[0.276,0.558],[0.278,0.55],[0.279,0.56],[0.280,0.552],[0.282,0.553],[0.283,0.565],[0.284,0.558],[0.286,0.57],[0.287,0.563],[0.288,0.573],[0.290,0.58],[0.291,0.584],[0.292,0.575],[0.293,0.59],[0.294,0.589],[0.295,0.58],[0.296,0.595],[0.297,0.585],[0.299,0.573],[0.300,0.592],[0.301,0.585],[0.302,0.6],[0.303,0.599],[0.304,0.588],[0.305,0.595],[0.306,0.58],[0.307,0.59],[0.308,0.584],[0.309,0.6],[0.310,0.578],[0.311,0.59],[0.312,0.573],[0.313,0.585],[0.314,0.595],[0.315,0.575],[0.316,0.588],[0.317,0.579],[0.318,0.568],[0.319,0.58],[0.320,0.565],[0.321,0.558],[0.322,0.572],[0.323,0.56],[0.324,0.552],[0.325,0.565],[0.326,0.555],[0.327,0.548],[0.328,0.558],[0.329,0.545],[0.330,0.538],[0.331,0.55],[0.332,0.54],[0.334,0.532],[0.335,0.54],[0.336,0.528],[0.337,0.522],
  [0.2365,0.478],[0.2415,0.498],[0.2465,0.49],[0.2505,0.508],[0.2545,0.495],[0.2585,0.522],[0.2625,0.51],[0.2655,0.535],[0.2695,0.528],[0.2735,0.54],[0.2775,0.565],[0.2815,0.545],[0.2855,0.575],[0.2895,0.57],[0.2935,0.598],[0.2985,0.605],[0.3035,0.578],[0.3075,0.605],[0.3125,0.595],[0.3165,0.6],[0.3205,0.575],[0.3245,0.568],[0.3285,0.535],[0.3335,0.548],[0.3355,0.518]];

const nights = [n228, n231, n232, n245, n246, n254, n258, n271, n272];

const FONT = '"Liberation Sans", Arial, sans-serif';

function fmtMag(v) {
  if (Math.abs(v) < 1e-9) v = 0;
  return v.toFixed(1).replace('-', '\u2212');
}

const whiteBg = {
  id: 'whiteBg',
  beforeDraw(chart) {
    const ctx = chart.ctx;
    ctx.save();
    ctx.fillStyle = '#fff';
    ctx.fillRect(0, 0, chart.width, chart.height);
    ctx.restore();
  }
};

// short unlabelled ticks between the major ones
const minorTicks = {
  id: 'minorTicks',
  afterDraw(chart) {
    const ctx = chart.ctx;
    const xs = chart.scales.x, ys = chart.scales.y;
    const area = chart.chartArea;
    ctx.save();
    ctx.strokeStyle = '#000';
    ctx.lineWidth = 2;
    ctx.beginPath();
    dayMinor.forEach(d => {
      const px = Math.round(xs.getPixelForValue(d));
      ctx.moveTo(px, area.bottom);
      ctx.lineTo(px, area.bottom + 6);
    });
    magMinor.forEach(m => {
      const py = Math.round(ys.getPixelForValue(m));
      ctx.moveTo(area.left, py);
      ctx.lineTo(area.left - 6, py);
    });
    ctx.stroke();
    ctx.restore();
  }
};

// y tick labels and y title, drawn here so the title can sit a bit low like the source
const magAxisText = {
  id: 'magAxisText',
  afterDraw(chart) {
    const ctx = chart.ctx;
    const ys = chart.scales.y;
    ctx.save();
    ctx.fillStyle = '#000';
    ctx.font = '28px ' + FONT;
    ctx.textAlign = 'right';
    ctx.textBaseline = 'middle';
    magTicks.forEach(v => {
      ctx.fillText(fmtMag(v), 112, ys.getPixelForValue(v) + 1);
    });
    ctx.save();
    ctx.translate(35, 348);
    ctx.rotate(-Math.PI / 2);
    ctx.scale(1.14, 1);
    ctx.font = 'bold 30px ' + FONT;
    ctx.textAlign = 'center';
    ctx.textBaseline = 'alphabetic';
    ctx.fillText('Delta Mag', 0, 0);
    ctx.restore();
    ctx.restore();
  }
};

const nightText = {
  id: 'nightText',
  afterDatasetsDraw(chart) {
    const ctx = chart.ctx;
    const xs = chart.scales.x, ys = chart.scales.y;
    ctx.save();
    ctx.fillStyle = '#000';
    ctx.font = '27px ' + FONT;
    ctx.textAlign = 'left';
    ctx.textBaseline = 'middle';
    nightLabels.forEach((t, i) => {
      ctx.fillText(t, xs.getPixelForValue(nightLabelDay), ys.getPixelForValue(nightLabelMag[i]));
    });
    ctx.restore();
  }
};

new Chart(document.getElementById('lightCurves'), {
  type: 'scatter',
  data: {
    datasets: nights.map((pts, i) => ({
      label: nightLabels[i],
      data: pts.map(p => ({ x: p[0], y: p[1] })),
      backgroundColor: '#000',
      borderWidth: 0,
      pointRadius: 3.8,
      pointHoverRadius: 3.8
    }))
  },
  options: {
    responsive: false,
    animation: false,
    events: [],
    layout: { padding: { top: 20, right: 180, left: 0, bottom: 0 } },
    plugins: {
      legend: { display: false },
      tooltip: { enabled: false }
    },
    scales: {
      x: {
        type: 'linear',
        min: 0.1722,
        max: 0.7,
        afterBuildTicks(s) { s.ticks = dayTicks.map(v => ({ value: v })); },
        afterFit(s) { s.height = 115; },
        border: { color: '#000', width: 2 },
        grid: { drawOnChartArea: false, drawTicks: true, tickLength: 12, tickWidth: 2, tickColor: '#000' },
        ticks: {
          color: '#000',
          padding: 7,
          maxRotation: 0,
          font: { family: FONT, size: 31 },
          callback: v => v.toFixed(1)
        },
        title: {
          display: true,
          text: 'Days',
          color: '#000',
          padding: { top: 0, bottom: 0 },
          font: { family: FONT, size: 33, weight: 'bold' }
        }
      },
      y: {
        type: 'linear',
        reverse: true,
        min: -1.2,
        max: 0.692,
        afterBuildTicks(s) { s.ticks = magTicks.map(v => ({ value: v })); },
        afterFit(s) { s.width = 131; },
        border: { color: '#000', width: 2 },
        grid: { drawOnChartArea: false, drawTicks: true, tickLength: 10, tickWidth: 2, tickColor: '#000' },
        ticks: { display: false },
        title: { display: false }
      }
    }
  },
  plugins: [whiteBg, minorTicks, magAxisText, nightText]
});
</script>
</body>
</html>
